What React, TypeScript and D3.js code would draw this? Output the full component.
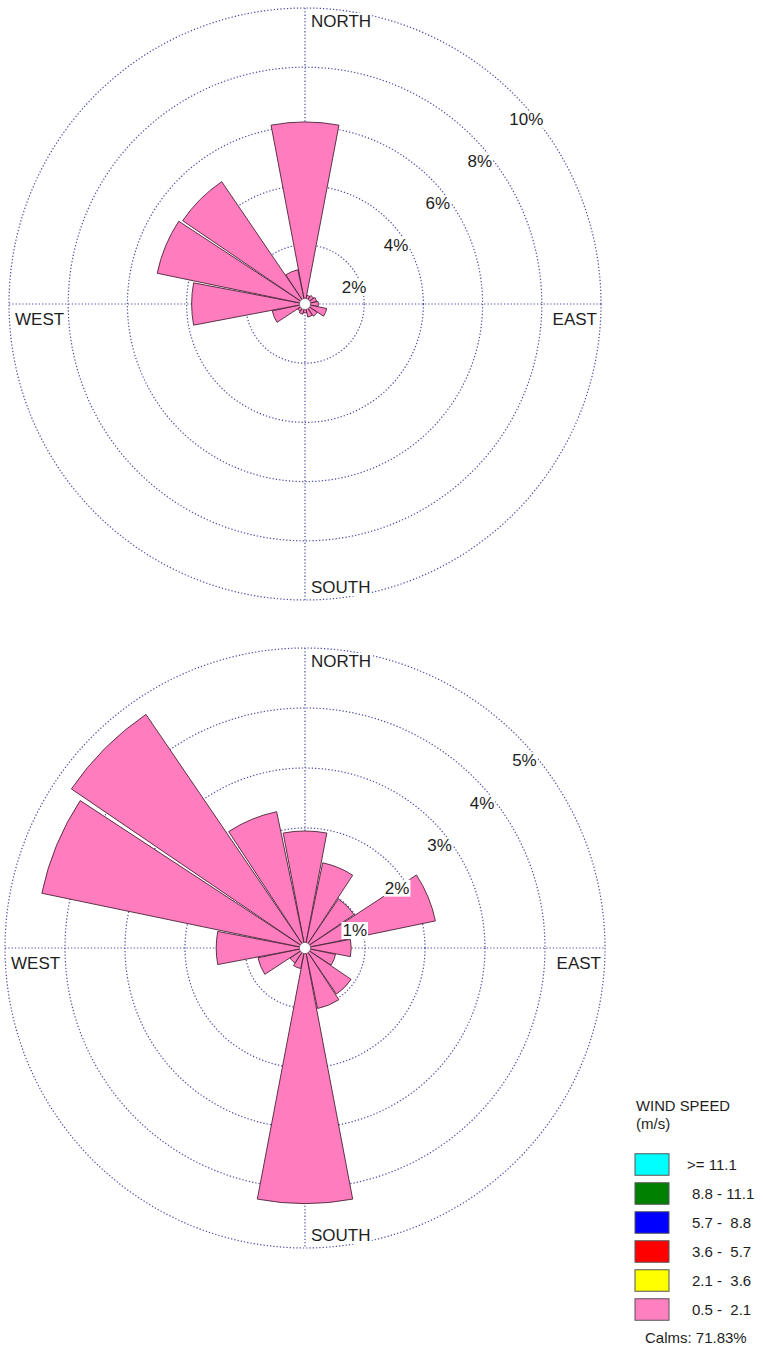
import React, { useEffect, useRef } from 'react';
import * as d3 from 'd3';

// ---------- data ----------
const DIRECTIONS = ['N', 'NNE', 'NE', 'ENE', 'E', 'ESE', 'SE', 'SSE', 'S', 'SSW', 'SW', 'WSW', 'W', 'WNW', 'NW', 'NNW'];
// frequency (%) of the 0.5 - 2.1 m/s class, by direction
const topRoseValues = [6.15, 0.3, 0.35, 0.4, 0.45, 0.75, 0.5, 0.45, 0.3, 0.35, 0.3, 1.13, 3.83, 5.1, 5.0, 1.18];
const bottomRoseValues = [1.95, 1.45, 0.99, 2.22, 0.77, 0.52, 0.93, 1.03, 4.26, 0.35, 0.3, 0.8, 1.48, 4.48, 4.71, 2.32];
const topRoseTicks = [2, 4, 6, 8, 10];
const bottomRoseTicks = [1, 2, 3, 4, 5];
const compassLabels = ['NORTH', 'EAST', 'SOUTH', 'WEST'];
const speedClassLabels = ['>= 11.1', '8.8 - 11.1', '5.7 -  8.8', '3.6 -  5.7', '2.1 -  3.6', '0.5 -  2.1'];
const speedClassColors = ['#00FFFF', '#008000', '#0000FF', '#FF0000', '#FFFF00', '#FF80C0'];
const legendTitle = ['WIND SPEED', '(m/s)'];
const calmsText = 'Calms: 71.83%';

// ---------- style ----------
const FONT = '"Liberation Sans", Arial, Helvetica, sans-serif';
const GRID = '#4f4fa6';
const PINK = '#FF7DBE';
const PETAL_STROKE = '#4a2238';
const TEXT = '#1e1e1e';
const HALF_WIDTH = 10.75; // degrees

type Sel = d3.Selection<SVGSVGElement, unknown, null, undefined>;

function labelWithBg(parent: any, x: number, y: number, text: string, anchor: string, size: number) {
  const g = parent.append('g');
  const rect = g.append('rect').attr('fill', '#fff');
  const t = g
    .append('text')
    .attr('x', x)
    .attr('y', y)
    .attr('text-anchor', anchor)
    .attr('font-family', FONT)
    .attr('font-size', size)
    .attr('fill', TEXT)
    .text(text);
  const bb = (t.node() as SVGTextElement).getBBox();
  rect
    .attr('x', bb.x - 1)
    .attr('y', bb.y + 1)
    .attr('width', bb.width + 2)
    .attr('height', bb.height - 2);
}

function drawRose(svg: Sel, cx: number, cy: number, R: number, max: number, ticks: number[], values: number[]) {
  const g = svg.append('g').attr('transform', `translate(${cx},${cy})`);
  const r = d3.scaleLinear().domain([0, max]).range([0, R]);

  // rings
  g.selectAll('circle.ring')
    .data(ticks)
    .enter()
    .append('circle')
    .attr('class', 'ring')
    .attr('r', (d) => r(d))
    .attr('fill', 'none')
    .attr('stroke', GRID)
    .attr('stroke-width', 1.2)
    .attr('stroke-dasharray', '1.3 2');

  // axes
  const axes = [
    [-R, 0, R, 0],
    [0, -R, 0, R],
  ];
  g.selectAll('line.axis')
    .data(axes)
    .enter()
    .append('line')
    .attr('x1', (d) => d[0])
    .attr('y1', (d) => d[1])
    .attr('x2', (d) => d[2])
    .attr('y2', (d) => d[3])
    .attr('stroke', GRID)
    .attr('stroke-width', 1.2)
    .attr('stroke-dasharray', '1.3 2');

  // petals
  const rad = Math.PI / 180;
  const data = values.map((v, i) => ({ v, i, dir: DIRECTIONS[i] }));
  const arc = d3
    .arc<any>()
    .innerRadius(0)
    .outerRadius((d: any) => r(d.v))
    .startAngle((d: any) => (d.i * 22.5 - HALF_WIDTH) * rad)
    .endAngle((d: any) => (d.i * 22.5 + HALF_WIDTH) * rad);
  g.selectAll('path.petal')
    .data(data)
    .enter()
    .append('path')
    .attr('class', 'petal')
    .attr('d', arc as any)
    .attr('fill', PINK)
    .attr('stroke', PETAL_STROKE)
    .attr('stroke-width', 0.9)
    .attr('stroke-linejoin', 'round');

  // calm circle
  g.append('circle').attr('r', 5.6).attr('fill', '#fff').attr('stroke', '#6a5a66').attr('stroke-width', 0.8);

  // ring labels along the NE diagonal
  ticks.forEach((t) => {
    const px = r(t) * Math.cos(45 * rad);
    const py = -r(t) * Math.sin(45 * rad);
    labelWithBg(g, px - 5, py + 30.5, `${t}%`, 'start', 17);
  });

  // compass labels
  labelWithBg(g, 6, -R + 19, compassLabels[0], 'start', 17);
  labelWithBg(g, R - 4, 21, compassLabels[1], 'end', 17);
  labelWithBg(g, 6, R - 7, compassLabels[2], 'start', 17);
  labelWithBg(g, -R + 6, 21, compassLabels[3], 'start', 17);
}

function drawLegend(svg: Sel) {
  const g = svg.append('g');
  g.append('text')
    .attr('x', 636)
    .attr('y', 1111)
    .attr('font-family', FONT)
    .attr('font-size', 15)
    .attr('fill', TEXT)
    .attr('textLength', 94)
    .attr('lengthAdjust', 'spacingAndGlyphs')
    .text(legendTitle[0]);
  g.append('text')
    .attr('x', 636)
    .attr('y', 1129)
    .attr('font-family', FONT)
    .attr('font-size', 15)
    .attr('fill', TEXT)
    .text(legendTitle[1]);

  const y = d3.scaleBand<number>().domain(d3.range(speedClassLabels.length)).range([1150, 1324]).paddingInner(0);
  const rows = g
    .selectAll('g.row')
    .data(speedClassLabels.map((l, i) => ({ l, c: speedClassColors[i], i })))
    .enter()
    .append('g')
    .attr('class', 'row');
  rows
    .append('rect')
    .attr('x', 635)
    .attr('y', (d) => (y(d.i) as number) + (y.bandwidth() - 21.5) / 2)
    .attr('width', 34)
    .attr('height', 21.5)
    .attr('fill', (d) => d.c)
    .attr('stroke', '#555')
    .attr('stroke-width', 1);
  rows
    .append('text')
    .attr('x', (d) => (d.i === 0 ? 687 : 692))
    .attr('y', (d) => (y(d.i) as number) + y.bandwidth() / 2 + 5.5)
    .attr('font-family', FONT)
    .attr('font-size', 15)
    .attr('fill', TEXT)
    .style('white-space', 'pre')
    .text((d) => d.l);

  g.append('text')
    .attr('x', 645)
    .attr('y', 1343)
    .attr('font-family', FONT)
    .attr('font-size', 15)
    .attr('fill', TEXT)
    .text(calmsText);
}

export default function App() {
  const ref = useRef<SVGSVGElement>(null);
  useEffect(() => {
    if (!ref.current) return;
    const svg = d3.select(ref.current) as Sel;
    svg.selectAll('*').remove();
    drawRose(svg, 305, 304, 296, 10, topRoseTicks, topRoseValues);
    drawRose(svg, 305, 948, 300, 5, bottomRoseTicks, bottomRoseValues);
    drawLegend(svg);
  }, []);
  return (
    <div style={{ position: 'absolute', left: 0, top: 0, background: '#fff' }}>
      <svg ref={ref} width={763} height={1356} style={{ display: 'block', background: '#fff' }} />
    </div>
  );
}
